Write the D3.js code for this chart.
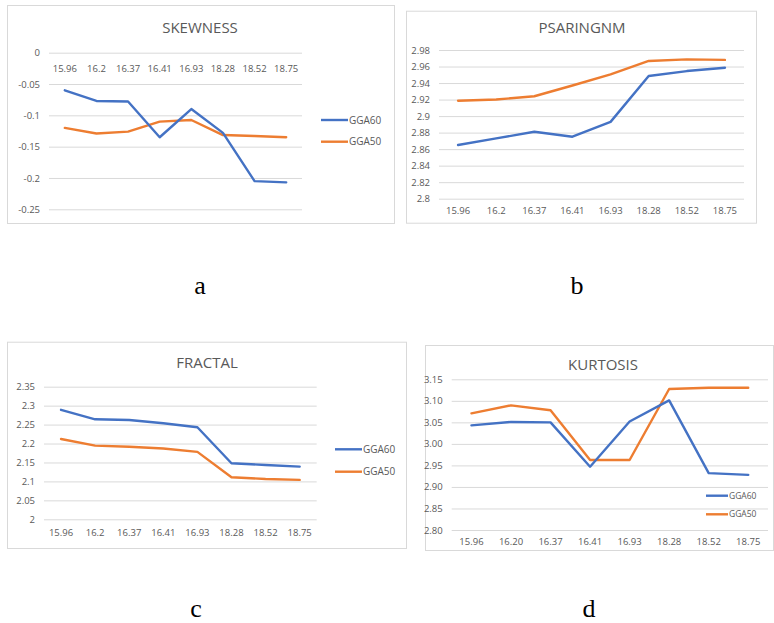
<!DOCTYPE html>
<html>
<head>
<meta charset="utf-8">
<script src="https://cdn.jsdelivr.net/npm/d3@7"></script>
<style>
  html, body { margin: 0; padding: 0; background: #fff; }
  svg { display: block; }
</style>
</head>
<body>
<svg id="fig" width="774" height="623"></svg>
<script>
// Sample categories on the horizontal axis
const categories = ["15.96", "16.2", "16.37", "16.41", "16.93", "18.28", "18.52", "18.75"];
const categoriesKurtosis = ["15.96", "16.20", "16.37", "16.41", "16.93", "18.28", "18.52", "18.75"];
const seriesNames = ["GGA60", "GGA50"];

// Skewness
const skewGGA60 = [-0.060, -0.077, -0.078, -0.135, -0.090, -0.128, -0.205, -0.207];
const skewGGA50 = [-0.120, -0.129, -0.126, -0.110, -0.1075, -0.1315, -0.133, -0.135];
const skewTicks = [0, -0.05, -0.1, -0.15, -0.2, -0.25];

// PSARINGNM
const psarGGA60 = [2.865, 2.873, 2.881, 2.875, 2.893, 2.9485, 2.9545, 2.9585];
const psarGGA50 = [2.9185, 2.920, 2.924, 2.937, 2.9505, 2.9667, 2.9687, 2.968];
const psarTicks = [2.8, 2.82, 2.84, 2.86, 2.88, 2.9, 2.92, 2.94, 2.96, 2.98];

// Fractal dimension
const fracGGA60 = [2.289, 2.264, 2.262, 2.2535, 2.243, 2.148, 2.1435, 2.139];
const fracGGA50 = [2.212, 2.1945, 2.1915, 2.187, 2.178, 2.111, 2.1065, 2.104];
const fracTicks = [2, 2.05, 2.1, 2.15, 2.2, 2.25, 2.3, 2.35];

// Kurtosis
const kurtGGA60 = [3.043, 3.051, 3.050, 2.947, 3.052, 3.101, 2.932, 2.928];
const kurtGGA50 = [3.071, 3.0895, 3.078, 2.9625, 2.9625, 3.1275, 3.1305, 3.1305];
const kurtTicks = [2.80, 2.85, 2.90, 2.95, 3.00, 3.05, 3.10, 3.15];

const panelLetters = ["a", "b", "c", "d"];

const colors = { GGA60: "#4472C4", GGA50: "#ED7D31" };
const textGrey = "#595959";
const gridGrey = "#d9d9d9";
const fontFam = "'Open Sans', 'Liberation Sans', sans-serif";

const svg = d3.select("#fig");

const panels = [
  {
    title: "SKEWNESS", cats: categories, s60: skewGGA60, s50: skewGGA50,
    ticks: skewTicks, fmt: d => String(d),
    box: [7, 5, 394, 223], plot: [49, 302, 52.7, 209.3], titleX: 200, titleY: 28,
    xLabelY: 69, legend: { x: 321, y: 120, gap: 21.7, len: 27, size: 10 }
  },
  {
    title: "PSARINGNM", cats: categories, s60: psarGGA60, s50: psarGGA50,
    ticks: psarTicks, fmt: d => String(d),
    box: [406, 10.7, 756, 222.7], plot: [439, 744, 50, 198.7], titleX: 582, titleY: 28,
    xLabelY: 211, legend: null
  },
  {
    title: "FRACTAL", cats: categories, s60: fracGGA60, s50: fracGGA50,
    ticks: fracTicks, fmt: d => String(d),
    box: [7, 341.7, 406, 548], plot: [44, 316.7, 386.7, 519.3], titleX: 207, titleY: 362.3,
    xLabelY: 533.3, legend: { x: 335, y: 449.3, gap: 22.4, len: 27, size: 10 }
  },
  {
    title: "KURTOSIS", cats: categoriesKurtosis, s60: kurtGGA60, s50: kurtGGA50,
    ticks: kurtTicks, fmt: d3.format(".2f"),
    box: [425, 345, 773, 550], plot: [451.7, 768, 379.3, 530], titleX: 603, titleY: 364.3,
    xLabelY: 541.7, legend: { x: 706, y: 495.7, gap: 18.6, len: 22, size: 8.5 }
  }
];

panels.forEach(p => {
  const g = svg.append("g");
  const [bx0, by0, bx1, by1] = p.box;
  const [pl, pr, pt, pb] = p.plot;

  // chart area frame
  g.append("rect")
    .attr("x", bx0 + 0.5).attr("y", by0 + 0.5)
    .attr("width", bx1 - bx0).attr("height", by1 - by0)
    .attr("fill", "#fff").attr("stroke", gridGrey).attr("stroke-width", 1);

  const x = d3.scaleBand().domain(p.cats).range([pl, pr]).padding(0);
  const y = d3.scaleLinear().domain(d3.extent(p.ticks)).range([pb, pt]);

  // horizontal gridlines with value labels
  const yAxis = d3.axisLeft(y).tickValues(p.ticks).tickFormat(p.fmt)
    .tickSize(-(pr - pl)).tickPadding(9);
  const ya = g.append("g").attr("transform", `translate(${pl},0)`).call(yAxis);
  ya.select(".domain").remove();
  ya.selectAll(".tick line").attr("stroke", gridGrey).attr("stroke-width", 1);
  ya.selectAll(".tick text").attr("fill", textGrey)
    .style("font-family", fontFam).style("font-size", "9.5px");

  // category labels
  const xAxis = d3.axisBottom(x).tickSize(0).tickPadding(0);
  const xa = g.append("g").attr("transform", `translate(0,${p.xLabelY})`).call(xAxis);
  xa.select(".domain").remove();
  xa.selectAll(".tick text").attr("fill", textGrey).attr("dy", "0.32em")
    .style("font-family", fontFam).style("font-size", "9.5px");

  // title
  g.append("text")
    .attr("x", p.titleX)
    .attr("y", p.titleY).attr("dy", "0.35em")
    .attr("text-anchor", "middle").attr("fill", textGrey)
    .style("font-family", fontFam).style("font-size", "15px")
    .text(p.title);

  // series lines
  const line = d3.line()
    .x((d, i) => x(p.cats[i]) + x.bandwidth() / 2)
    .y(d => y(d));
  [["GGA50", p.s50], ["GGA60", p.s60]].forEach(([name, vals]) => {
    g.append("path").datum(vals)
      .attr("d", line).attr("fill", "none")
      .attr("stroke", colors[name]).attr("stroke-width", 2.4)
      .attr("stroke-linejoin", "round").attr("stroke-linecap", "round");
  });

  // legend
  if (p.legend) {
    const L = p.legend;
    seriesNames.forEach((name, i) => {
      const ly = L.y + i * L.gap;
      g.append("line")
        .attr("x1", L.x).attr("x2", L.x + L.len)
        .attr("y1", ly).attr("y2", ly)
        .attr("stroke", colors[name]).attr("stroke-width", 2.4);
      g.append("text")
        .attr("x", L.x + L.len + 1).attr("y", ly).attr("dy", "0.35em")
        .attr("fill", textGrey)
        .style("font-family", fontFam).style("font-size", L.size + "px")
        .text(name);
    });
  }
});

// panel captions
const captionPos = [[200, 285], [577, 285], [196, 608], [589, 608]];
svg.selectAll("text.caption").data(panelLetters).join("text")
  .attr("class", "caption")
  .attr("x", (d, i) => captionPos[i][0])
  .attr("y", (d, i) => captionPos[i][1])
  .attr("dy", "0.35em")
  .attr("text-anchor", "middle")
  .style("font-family", "'Liberation Serif', 'DejaVu Serif', serif")
  .style("font-size", "26px")
  .attr("fill", "#000")
  .text(d => d);
</script>
</body>
</html>
